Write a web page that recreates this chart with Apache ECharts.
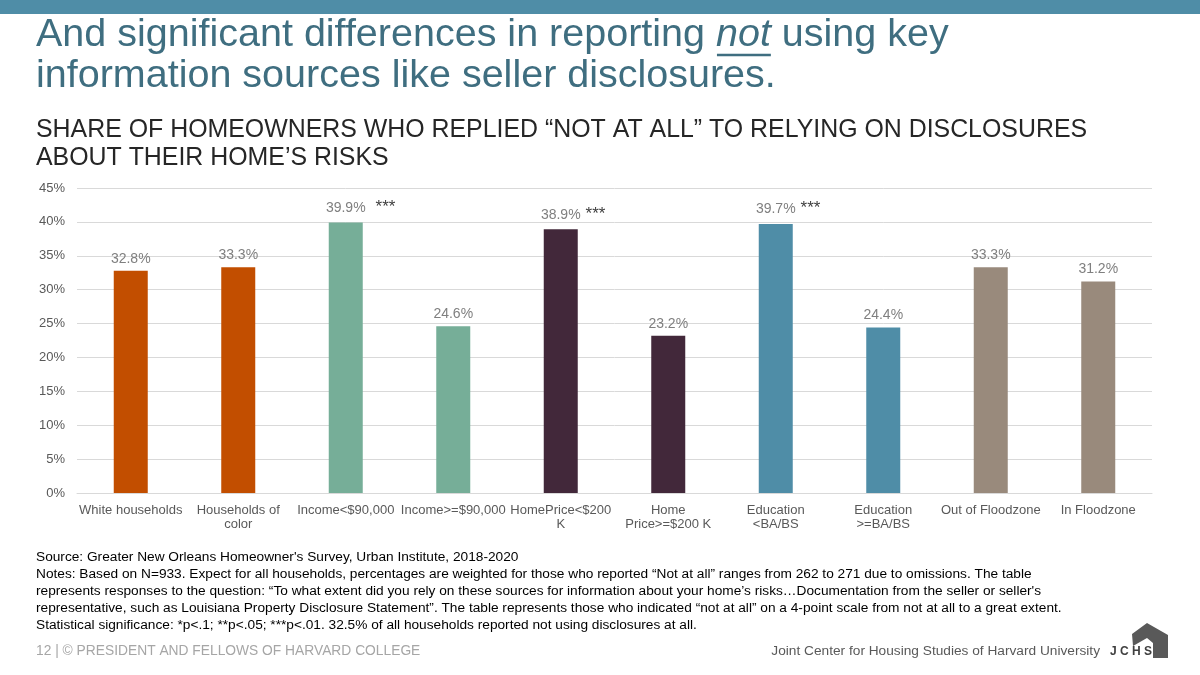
<!DOCTYPE html>
<html>
<head>
<meta charset="utf-8">
<script src="https://cdn.jsdelivr.net/npm/echarts@6/dist/echarts.min.js"></script>
<style>
html,body{margin:0;padding:0;background:#fff;}
#c{width:1200px;height:675px;}
</style>
</head>
<body>
<div id="c"></div>
<script>
// ---- Data ----
var categories = ['White households', 'Households of\ncolor', 'Income<$90,000', 'Income>=$90,000', 'HomePrice<$200\nK', 'Home\nPrice>=$200 K', 'Education\n<BA/BS', 'Education\n>=BA/BS', 'Out of Floodzone', 'In Floodzone'];
var values = [32.8, 33.3, 39.9, 24.6, 38.9, 23.2, 39.7, 24.4, 33.3, 31.2];
var significance = ['', '', '***', '', '***', '', '***', '', '', ''];
var barColors = ['#C24E00', '#C24E00', '#76AE98', '#76AE98', '#42283A', '#42283A', '#4F8DA7', '#4F8DA7', '#998A7C', '#998A7C'];
var yTicks = [0, 5, 10, 15, 20, 25, 30, 35, 40, 45];

var titleLine1a = 'And significant differences in reporting ';
var titleLine1b = 'not';
var titleLine1c = ' using key';
var titleLine2 = 'information sources like seller disclosures.';
var subtitleLines = ['SHARE OF HOMEOWNERS WHO REPLIED \u201CNOT AT ALL\u201D TO RELYING ON DISCLOSURES', 'ABOUT THEIR HOME\u2019S RISKS'];
var noteLines = [
  'Source: Greater New Orleans Homeowner\'s Survey, Urban Institute, 2018-2020',
  'Notes: Based on N=933. Expect for all households, percentages are weighted for those who reported \u201CNot at all\u201D ranges from 262 to 271 due to omissions. The table',
  'represents responses to the question: \u201CTo what extent did you rely on these sources for information about your home\u2019s risks\u2026Documentation from the seller or seller\'s',
  'representative, such as Louisiana Property Disclosure Statement\u201D. The table represents those who indicated \u201Cnot at all\u201D on a 4-point scale from not at all to a great extent.',
  'Statistical significance: *p<.1; **p<.05; ***p<.01. 32.5% of all households reported not using disclosures at all.'
];
var footerLeft = '12 | \u00A9 PRESIDENT AND FELLOWS OF HARVARD COLLEGE';
var footerRight = 'Joint Center for Housing Studies of Harvard University';

// ---- helpers ----
var FONT = '"Liberation Sans", Arial, sans-serif';
var ctx = document.createElement('canvas').getContext('2d');
function tw(text, font) { ctx.font = font; return ctx.measureText(text).width; }

var titleSize = 39.5;
var titleFont = titleSize + 'px ' + FONT;
var titleFontIt = 'italic ' + titleSize + 'px ' + FONT;
var tx = 36;
var w1a = tw(titleLine1a, titleFont);
var w1b = tw(titleLine1b, titleFontIt);
var titleColor = '#3F6E80';

var graphics = [
  { type: 'rect', shape: { x: 0, y: 0, width: 1200, height: 14 }, style: { fill: '#4F8DA7' } },
  { type: 'text', x: tx, y: 15, style: { text: titleLine1a, font: titleFont, fill: titleColor } },
  { type: 'text', x: tx + w1a, y: 15, style: { text: titleLine1b, font: titleFontIt, fill: titleColor } },
  { type: 'line', shape: { x1: tx + w1a + 1, y1: 55, x2: tx + w1a + w1b, y2: 55 }, style: { stroke: titleColor, lineWidth: 2.5 } },
  { type: 'text', x: tx + w1a + w1b, y: 15, style: { text: titleLine1c, font: titleFont, fill: titleColor } },
  { type: 'text', x: tx, y: 56, style: { text: titleLine2, font: titleFont, fill: titleColor } }
];
subtitleLines.forEach(function (t, i) {
  graphics.push({ type: 'text', x: tx, y: 118 + i * 28, style: { text: t, font: '24.9px ' + FONT, fill: '#262626' } });
});
noteLines.forEach(function (t, i) {
  graphics.push({ type: 'text', x: tx, y: 550 + i * 17, style: { text: t, font: '13.7px ' + FONT, fill: '#000' } });
});
graphics.push({ type: 'text', x: tx, y: 644, style: { text: footerLeft, font: '13.8px ' + FONT, fill: '#A6A6A6' } });
graphics.push({ type: 'text', x: 1100, y: 644, style: { text: footerRight, font: '13.7px ' + FONT, fill: '#595959', align: 'right' } });
graphics.push({ type: 'text', x: 1110, y: 646, style: { text: 'J C H S', font: 'bold 12px ' + FONT, fill: '#404040' } });
graphics.push({ type: 'polygon', shape: { points: [[1132, 634], [1147, 623], [1168, 635], [1168, 658], [1153, 658], [1153, 643], [1147, 638], [1133, 646]] }, style: { fill: '#595959' } });

var chart = echarts.init(document.getElementById('c'), null, { renderer: 'canvas' });
chart.setOption({
  animation: false,
  grid: { left: 77, right: 48, top: 188, bottom: 182, containLabel: false },
  xAxis: {
    type: 'category',
    data: categories,
    axisLine: { lineStyle: { color: '#D9D9D9' } },
    axisTick: { show: false },
    axisLabel: { color: '#595959', fontSize: 13, fontFamily: FONT, interval: 0, margin: 10, lineHeight: 14 }
  },
  yAxis: {
    type: 'value',
    min: yTicks[0], max: yTicks[yTicks.length - 1], interval: 5,
    axisLine: { show: false },
    axisTick: { show: false },
    splitLine: { lineStyle: { color: '#D9D9D9' } },
    axisLabel: { color: '#595959', fontSize: 13, fontFamily: FONT, formatter: '{value}%', margin: 12 }
  },
  series: [{
    type: 'bar',
    barWidth: 34,
    data: values.map(function (v, i) {
      var sig = significance[i];
      var lbl = { show: true, position: 'top', distance: 5, color: '#7F7F7F', fontSize: 14, fontFamily: FONT };
      if (sig) {
        var gap = i === 2 ? 10 : 5;
        var sw = tw(sig, '17px ' + FONT);
        lbl.formatter = '{v|' + v.toFixed(1) + '%}{g|}{s|' + sig + '}';
        lbl.rich = {
          v: { color: '#7F7F7F', fontSize: 14, fontFamily: FONT },
          g: { width: gap },
          s: { color: '#404040', fontSize: 17, fontFamily: FONT, padding: [0, 0, 2, 0] }
        };
        lbl.offset = [(gap + sw) / 2, 0];
      } else {
        lbl.formatter = function (p) { return p.value.toFixed(1) + '%'; };
      }
      return { value: v, itemStyle: { color: barColors[i] }, label: lbl };
    })
  }],
  graphic: graphics
});
</script>
</body>
</html>
